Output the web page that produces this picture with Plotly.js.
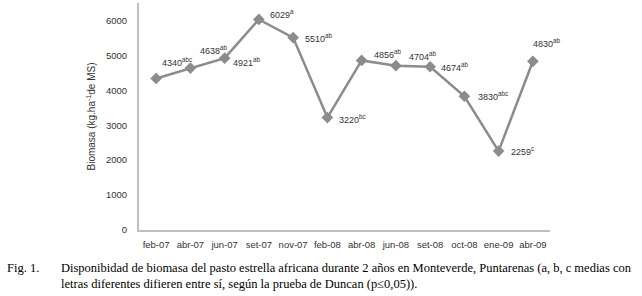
<!DOCTYPE html>
<html><head><meta charset="utf-8">
<script src="https://cdn.plot.ly/plotly-3.0.1.min.js"></script>
<style>body{margin:0;background:#fff}#c{width:642px;height:296px}</style>
</head><body><div id="c"></div>
<script>
const categories = ["feb-07","abr-07","jun-07","set-07","nov-07","feb-08","abr-08","jun-08","set-08","oct-08","ene-09","abr-09"];
const biomasa = [4340,4638,4921,6029,5510,3220,4856,4704,4674,3830,2259,4830];
const letters = ["abc","ab","ab","a","ab","bc","ab","ab","ab","abc","c","ab"];
const yTicks = [0,1000,2000,3000,4000,5000,6000];
// label offsets in px (placement style only)
const lblShift = [[21,16],[24,18],[22,-4],[23,5],[26,0],[25,-1],[26,6],[27,10],[25,0],[29,0],[24,0],[14,18]];

const W=642,H=296,L=139,R=550,T=3,B=230;
const pw=R-L, ph=B-T;
const px=v=>(v-L)/pw, py=v=>(B-v)/ph;

const annotations = categories.map((c,i)=>({
  x:c, y:biomasa[i], xref:'x', yref:'y', showarrow:false,
  text: biomasa[i]+'<sup>'+letters[i]+'</sup>',
  xshift:lblShift[i][0], yshift:lblShift[i][1],
  font:{family:'Liberation Sans, Arial, sans-serif', size:9, color:'#333'}
}));
const capFont={family:'Liberation Serif, Times New Roman, serif', size:12.5, color:'#000'};
annotations.push({xref:'paper',yref:'paper',x:px(5),y:py(268),xanchor:'left',yanchor:'middle',showarrow:false,text:'Fig. 1.',font:capFont});
annotations.push({xref:'paper',yref:'paper',x:px(59),y:py(268),xanchor:'left',yanchor:'middle',showarrow:false,text:'Disponibidad de biomasa del pasto estrella africana durante 2 años en Monteverde, Puntarenas (a, b, c medias con',font:capFont});
annotations.push({xref:'paper',yref:'paper',x:px(59),y:py(284),xanchor:'left',yanchor:'middle',showarrow:false,text:'letras diferentes difieren entre sí, según la prueba de Duncan (p≤0,05)).',font:capFont});

Plotly.newPlot('c',[{
  x:categories, y:biomasa, type:'scatter', mode:'lines+markers',
  line:{color:'#8c8c8c',width:2.5},
  marker:{symbol:'diamond',size:9,color:'#8c8c8c'},
  hoverinfo:'none'
}],{
  width:W,height:H,
  margin:{l:L,r:W-R,t:T,b:H-B,pad:0},
  paper_bgcolor:'#fff',plot_bgcolor:'#fff',
  showlegend:false,
  font:{family:'Liberation Sans, Arial, sans-serif',size:9,color:'#333'},
  xaxis:{type:'category',range:[-0.5,11.5],showgrid:false,zeroline:false,
    showline:true,linecolor:'#bfbfbf',linewidth:2,ticks:'outside',ticklen:5,tickcolor:'rgba(0,0,0,0)',
    tickfont:{size:9.5,color:'#333'},fixedrange:true},
  yaxis:{range:[0,6500],tickvals:yTicks,ticktext:yTicks.map(String),showgrid:false,zeroline:false,
    showline:true,linecolor:'#bfbfbf',linewidth:2,ticks:'outside',ticklen:8,tickcolor:'rgba(0,0,0,0)',
    tickfont:{size:9.5,color:'#333'},
    title:{text:'Biomasa (kg.ha<sup>-1</sup>de MS)',font:{size:10,color:'#333'},standoff:8},fixedrange:true},
  annotations:annotations
},{staticPlot:true});
</script></body></html>
